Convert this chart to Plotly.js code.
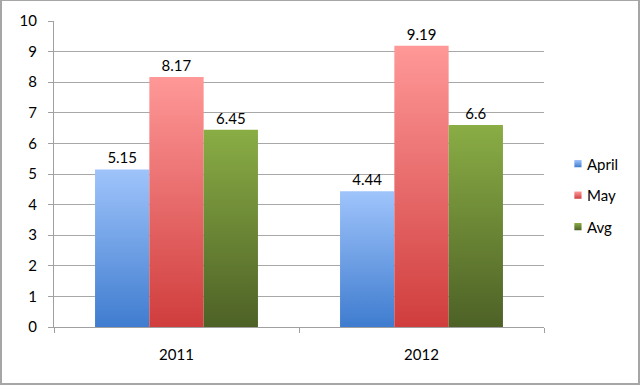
<!DOCTYPE html>
<html>
<head>
<meta charset="utf-8">
<script src="https://cdn.plot.ly/plotly-3.0.1.min.js"></script>
<style>
html,body{margin:0;padding:0;background:#fff;}
#chart{width:640px;height:385px;box-sizing:border-box;border:2px solid #a6a6a6;border-top-width:1px;border-left-width:2px;}
</style>
</head>
<body>
<div id="chart"></div>
<script>
const categories = ['2011', '2012'];
const aprilValues = [5.15, 4.44];
const mayValues = [8.17, 9.19];
const avgValues = [6.45, 6.6];
const seriesNames = ['April', 'May', 'Avg'];
const yTicks = [0,1,2,3,4,5,6,7,8,9,10];

const gradients = [
  {id: 'gApril', top: '#9fc4fb', bottom: '#3f7ccf', solid: '#5b8fdb'},
  {id: 'gMay', top: '#ff9898', bottom: '#d03d3d', solid: '#e06565'},
  {id: 'gAvg', top: '#8aad45', bottom: '#4d6126', solid: '#6a8a35'}
];
const allValues = [aprilValues, mayValues, avgValues];

const font = {family: 'Lato, "Open Sans", sans-serif', size: 15, color: '#000'};

const traces = allValues.map((vals, i) => ({
  type: 'bar',
  name: seriesNames[i],
  legendgroup: 'g' + i,
  x: categories,
  y: vals,
  text: vals.map(v => String(v)),
  textposition: 'outside',
  textfont: font,
  cliponaxis: false,
  marker: {color: gradients[i].solid, line: {width: 0}}
}));

const layout = {
  width: 636, height: 382,
  margin: {l: 52, r: 94, t: 20, b: 56, autoexpand: false},
  paper_bgcolor: '#fff', plot_bgcolor: '#fff',
  font: font,
  barmode: 'group',
  bargap: 0.335,
  bargroupgap: 0,
  showlegend: true,
  legend: {x: 1.006, y: 0.43, xanchor: 'left', yanchor: 'middle', font: font, traceorder: 'grouped', tracegroupgap: 9, itemwidth: 30, bgcolor: 'rgba(0,0,0,0)'},
  xaxis: {
    type: 'category',
    showline: true, linecolor: '#a0a0a0', linewidth: 1,
    ticks: 'outside', tickson: 'boundaries', ticklen: 5, tickcolor: '#a0a0a0',
    ticklabelstandoff: 14,
    showgrid: false, zeroline: false, tickfont: font
  },
  yaxis: {
    range: [0, 10], tickvals: yTicks,
    showline: true, linecolor: '#a0a0a0', linewidth: 1,
    ticks: 'outside', ticklen: 5, tickcolor: '#a0a0a0',
    ticklabelstandoff: 8,
    showgrid: true, gridcolor: '#a8a8a8', gridwidth: 1,
    zeroline: false, tickfont: font
  }
};

function applyGradients(gd) {
  const svg = gd.querySelector('svg.main-svg');
  if (!svg) return;
  let defs = svg.querySelector('defs#customGrad');
  if (!defs) {
    defs = document.createElementNS('http://www.w3.org/2000/svg', 'defs');
    defs.setAttribute('id', 'customGrad');
    gradients.forEach(g => {
      const lg = document.createElementNS('http://www.w3.org/2000/svg', 'linearGradient');
      lg.setAttribute('id', g.id);
      lg.setAttribute('x1', '0'); lg.setAttribute('y1', '0');
      lg.setAttribute('x2', '0'); lg.setAttribute('y2', '1');
      [[0, g.top], [1, g.bottom]].forEach(([o, c]) => {
        const st = document.createElementNS('http://www.w3.org/2000/svg', 'stop');
        st.setAttribute('offset', o);
        st.setAttribute('stop-color', c);
        lg.appendChild(st);
      });
      defs.appendChild(lg);
    });
    svg.insertBefore(defs, svg.firstChild);
  }
  const barTraces = gd.querySelectorAll('.barlayer .trace');
  barTraces.forEach((t, i) => {
    t.querySelectorAll('.point path').forEach(p => { p.style.fill = 'url(#' + gradients[i].id + ')'; });
  });
  const legTraces = gd.querySelectorAll('.legend .traces');
  legTraces.forEach((t, i) => {
    t.querySelectorAll('.legendpoints path').forEach(p => {
      p.style.fill = 'url(#' + gradients[i].id + ')';
      p.style.stroke = 'none';
      p.setAttribute('transform', 'translate(31,0) scale(0.6)');
    });
  });
}

Plotly.newPlot('chart', traces, layout, {displayModeBar: false, staticPlot: true}).then(gd => {
  applyGradients(gd);
  gd.on('plotly_afterplot', () => applyGradients(gd));
});
</script>
</body>
</html>
